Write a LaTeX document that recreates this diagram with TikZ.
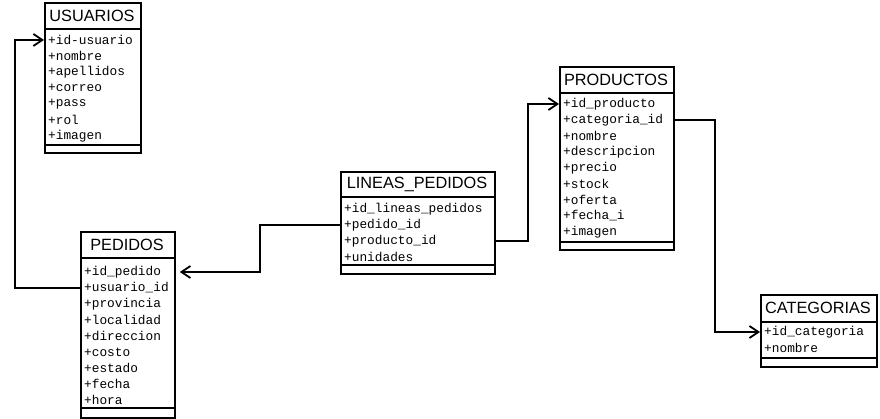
\documentclass[tikz,border=0pt]{standalone}
\usepackage{fontspec}
\newfontfamily\ttlfont{Liberation Sans}
\newfontfamily\rowfnt{Liberation Mono}
\usetikzlibrary{arrows.meta}
\begin{document}
\begin{tikzpicture}[x=1pt,y=-1pt,
  tbl/.style={draw,line width=1.8pt,inner sep=0pt,anchor=north west},
  sepline/.style={line width=1.8pt},
  ttl/.style={font=\ttlfont\fontsize{16.3}{16}\selectfont,inner sep=0pt},
  row/.style={font=\rowfnt\fontsize{12.8}{16}\selectfont,inner xsep=4pt,inner ysep=0pt,anchor=west},
  conn/.style={line width=1.8pt},
  tip/.style={-{Straight Barb[length=9pt,width=12pt]}}
]
\useasboundingbox (0,0) rectangle (880,419);

% USUARIOS
\node[tbl,minimum width=96pt,minimum height=150pt] (us) at (44,2) {};
\node[ttl] (ust) at (92,15.5) {USUARIOS};
\draw[sepline] (44,29) -- (140,29);
\draw[sepline] (44,145) -- (140,145);
\foreach \t [count=\i] in {+id-usuario,+nombre,+apellidos,+correo,+pass,+rol,+imagen}
  \node[row] (us\i) at (44,{24+16*\i}) {\t};

% PEDIDOS
\node[tbl,minimum width=94pt,minimum height=186pt] (pe) at (80,231) {};
\node[ttl] (pet) at (127,244.5) {PEDIDOS};
\draw[sepline] (80,258) -- (174,258);
\draw[sepline] (80,408) -- (174,408);
\foreach \t [count=\i] in {+id\_pedido,+usuario\_id,+provincia,+localidad,+direccion,+costo,+estado,+fecha,+hora}
  \node[row] (pe\i) at (80,{256+16*\i}) {\t};

% LINEAS_PEDIDOS
\node[tbl,minimum width=154pt,minimum height=102pt] (lp) at (340,171) {};
\node[ttl] (lpt) at (417,184) {LINEAS\_PEDIDOS};
\draw[sepline] (340,197) -- (494,197);
\draw[sepline] (340,265) -- (494,265);
\foreach \t [count=\i] in {+id\_lineas\_pedidos,+pedido\_id,+producto\_id,+unidades}
  \node[row] (lp\i) at (340,{193+16*\i}) {\t};

% PRODUCTOS
\node[tbl,minimum width=114pt,minimum height=183pt] (pr) at (559,66) {};
\node[ttl] (prt) at (616,79.5) {PRODUCTOS};
\draw[sepline] (559,93) -- (673,93);
\draw[sepline] (559,242) -- (673,242);
\foreach \t [count=\i] in {+id\_producto,+categoria\_id,+nombre,+descripcion,+precio,+stock,+oferta,+fecha\_i,+imagen}
  \node[row] (pr\i) at (559,{88+16*\i}) {\t};

% CATEGORIAS
\node[tbl,minimum width=116pt,minimum height=72pt] (ca) at (760,294) {};
\node[ttl] (cat) at (818,308) {CATEGORIAS};
\draw[sepline] (760,322) -- (876,322);
\draw[sepline] (760,358) -- (876,358);
\foreach \t [count=\i] in {+id\_categoria,+nombre}
  \node[row] (ca\i) at (760,{316+16*\i}) {\t};

% connectors
\coordinate (k1) at (15,0);
\coordinate (k2) at (260,0);
\coordinate (k3) at (528,0);
\coordinate (k4) at (715,0);
\draw[conn,tip] (pe2.west) -- (pe2.west -| k1) |- (us1.west);
\draw[conn,tip,shorten >=4pt] (lp2.west) -- (lp2.west -| k2) |- (pe1 -| pe.east);
\draw[conn,tip] (lp3 -| lp.east) -- (lp3 -| k3) |- (pr1.west);
\draw[conn,tip] (pr2 -| pr.east) -- (pr2 -| k4) |- (ca1.west);
\end{tikzpicture}
\end{document}
